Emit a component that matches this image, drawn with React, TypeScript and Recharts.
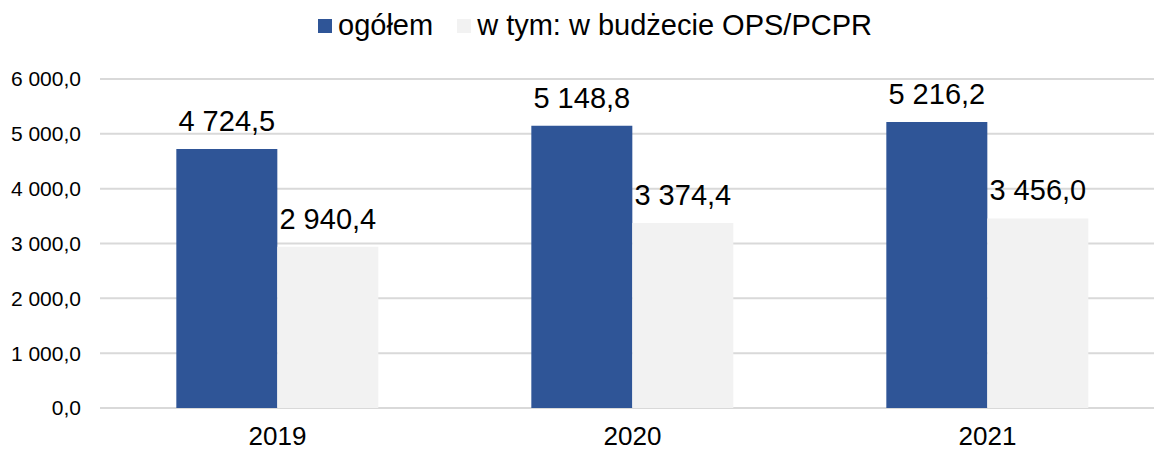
import {
  BarChart,
  Bar,
  XAxis,
  YAxis,
  CartesianGrid,
  Legend,
  LabelList,
} from "recharts";

const years = ["2019", "2020", "2021"];
const ogolem = [4724.5, 5148.8, 5216.2];
const wBudzecie = [2940.4, 3374.4, 3456.0];
const yTicks = [0, 1000, 2000, 3000, 4000, 5000, 6000];

const FONT = '"Liberation Sans", Arial, sans-serif';
const BLUE = "#2F5597";
const LIGHT = "#F2F2F2";

const data = years.map((year, i) => ({
  year,
  ogolem: ogolem[i],
  budzet: wBudzecie[i],
}));

// Polish number format: "4 724,5"
function fmt(v: number) {
  const [int, dec] = v.toFixed(1).split(".");
  return int.replace(/\B(?=(\d{3})+(?!\d))/g, " ") + "," + dec;
}

function TopLegend() {
  const items = [
    { label: "ogółem", color: BLUE },
    { label: "w tym: w budżecie OPS/PCPR", color: LIGHT },
  ];
  return (
    <div
      style={{
        position: "absolute",
        left: 318,
        top: 9,
        display: "flex",
        alignItems: "center",
        fontFamily: FONT,
        fontSize: 29,
        color: "#000",
        whiteSpace: "nowrap",
      }}
    >
      {items.map((it, i) => (
        <div
          key={it.label}
          style={{
            display: "flex",
            alignItems: "center",
            marginRight: i === 0 ? 24 : 0,
          }}
        >
          <span
            style={{
              display: "inline-block",
              width: 14,
              height: 14,
              background: it.color,
              marginRight: 6,
            }}
          />
          <span>{it.label}</span>
        </div>
      ))}
    </div>
  );
}

export default function App() {
  // the chart runs past the right edge and is cropped, like the source image
  return (
    <div
      style={{
        position: "absolute",
        left: 0,
        top: 0,
        width: 1154,
        height: 450,
        overflow: "hidden",
        background: "#fff",
      }}
    >
      <BarChart
        width={1170}
        height={450}
        data={data}
        margin={{ top: 79, right: 5, bottom: 0, left: 0 }}
        barCategoryGap="21.5%"
        barGap={0}
      >
        <CartesianGrid vertical={false} stroke="#D9D9D9" strokeWidth={2} />
        <XAxis
          dataKey="year"
          height={42}
          tickLine={false}
          axisLine={false}
          tickSize={0}
          tickMargin={19}
          tick={{ fill: "#000", fontSize: 26, fontFamily: FONT }}
        />
        <YAxis
          domain={[0, 6000]}
          ticks={yTicks}
          width={100}
          tickLine={false}
          axisLine={false}
          tickSize={0}
          tickMargin={19}
          tickFormatter={fmt}
          tick={{ fill: "#000", fontSize: 21, fontFamily: FONT }}
        />
        <Legend
          verticalAlign="top"
          wrapperStyle={{ position: "absolute", top: 0, left: 0, height: 0 }}
          content={() => <TopLegend />}
        />
        <Bar dataKey="ogolem" fill={BLUE} isAnimationActive={false}>
          <LabelList
            dataKey="ogolem"
            position="top"
            offset={18}
            formatter={(v: any) => fmt(Number(v))}
            style={{ fill: "#000", fontSize: 29, fontFamily: FONT }}
          />
        </Bar>
        <Bar dataKey="budzet" fill={LIGHT} isAnimationActive={false}>
          <LabelList
            dataKey="budzet"
            position="top"
            offset={18}
            formatter={(v: any) => fmt(Number(v))}
            style={{ fill: "#000", fontSize: 29, fontFamily: FONT }}
          />
        </Bar>
      </BarChart>
    </div>
  );
}
